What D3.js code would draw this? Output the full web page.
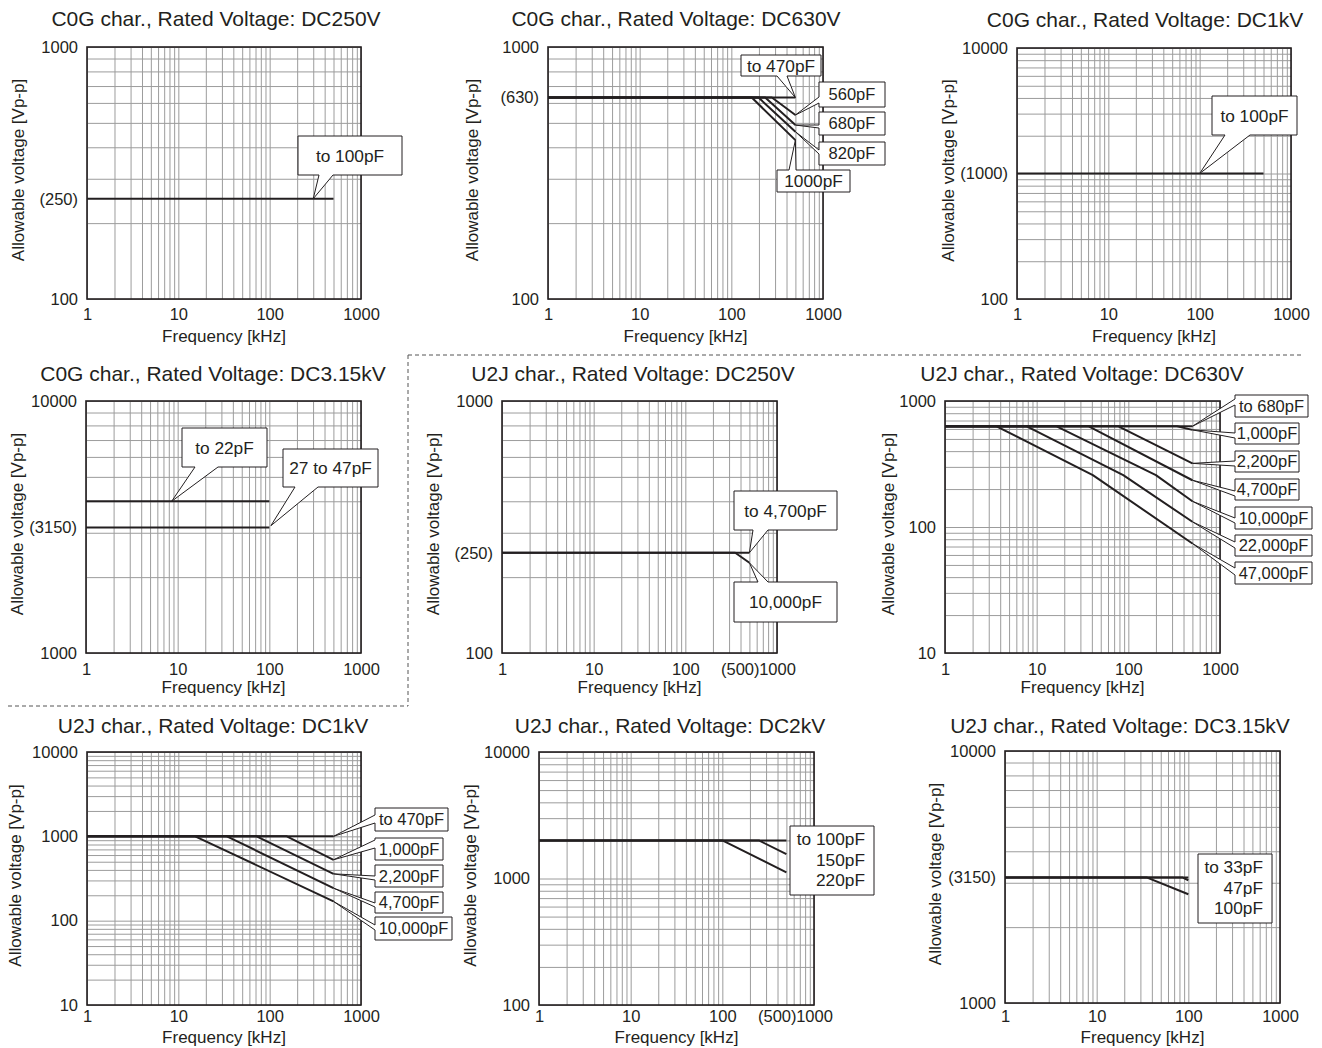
<!DOCTYPE html>
<html>
<head>
<meta charset="utf-8">
<script src="https://d3js.org/d3.v7.min.js"></script>
<style>
  body { margin: 0; background: #fff; }
  svg { display: block; }
  text { font-family: "Liberation Sans", Arial, Helvetica, sans-serif; fill: #231f20; }
</style>
</head>
<body>
<div id="chart"></div>
<script>
// ---- data (frequency kHz, allowable voltage Vp-p) ----
// C0G DC250V
var c0g250_100pF = [[1, 250], [500, 250]];
// C0G DC630V
var c0g630_470pF = [[1, 630], [500, 630]];
var c0g630_560pF = [[1, 630], [277, 630], [500, 537]];
var c0g630_680pF = [[1, 630], [234, 630], [500, 490]];
var c0g630_820pF = [[1, 630], [198, 630], [500, 461]];
var c0g630_1000pF = [[1, 630], [167, 630], [500, 427]];
// C0G DC1kV
var c0g1k_100pF = [[1, 1000], [500, 1000]];
// C0G DC3.15kV
var c0g315_22pF = [[1, 4000], [100, 4000]];
var c0g315_47pF = [[1, 3150], [100, 3150]];
// U2J DC250V
var u2j250_4700pF = [[1, 250], [500, 250]];
var u2j250_10000pF = [[1, 250], [350, 250], [500, 228]];
// U2J DC630V
var u2j630_680pF = [[1, 630], [500, 630]];
var u2j630_1000pF = [[1, 630], [340, 630], [500, 590]];
var u2j630_2200pF = [[1, 630], [78, 630], [500, 320]];
var u2j630_4700pF = [[1, 630], [37, 630], [500, 235]];
var u2j630_10000pF = [[1, 630], [16.5, 630], [200, 258], [500, 160]];
var u2j630_22000pF = [[1, 630], [7.8, 630], [88, 258], [500, 110]];
var u2j630_47000pF = [[1, 630], [3.65, 630], [41, 258], [500, 74]];
// U2J DC1kV
var u2j1k_470pF = [[1, 1000], [500, 1000]];
var u2j1k_1000pF = [[1, 1000], [154, 1000], [500, 527]];
var u2j1k_2200pF = [[1, 1000], [72, 1000], [500, 359]];
var u2j1k_4700pF = [[1, 1000], [34, 1000], [500, 243]];
var u2j1k_10000pF = [[1, 1000], [15.3, 1000], [500, 169]];
// U2J DC2kV
var u2j2k_100pF = [[1, 2000], [500, 2000]];
var u2j2k_150pF = [[1, 2000], [250, 2000], [500, 1560]];
var u2j2k_220pF = [[1, 2000], [100, 2000], [500, 1120]];
// U2J DC3.15kV
var u2j315_33pF = [[1, 3150], [100, 3150]];
var u2j315_47pF = [[1, 3150], [86, 3150], [100, 3070]];
var u2j315_100pF = [[1, 3150], [35, 3150], [100, 2700]];

// tick values / labels
var xTicksStd = [1, 10, 100, 1000];
var xLabelsStd = ["1", "10", "100", "1000"];
var xTicks500 = [1, 10, 100, 500, 1000];
var xLabels500 = ["1", "10", "100", "(500)", "1000"];

var yTicks250 = [100, 250, 1000], yLabels250 = ["100", "(250)", "1000"];
var yTicks630 = [100, 630, 1000], yLabels630 = ["100", "(630)", "1000"];
var yTicks1k = [100, 1000, 10000], yLabels1k = ["100", "(1000)", "10000"];
var yTicks3150 = [1000, 3150, 10000], yLabels3150 = ["1000", "(3150)", "10000"];
var yTicksDec2 = [10, 100, 1000], yLabelsDec2 = ["10", "100", "1000"];
var yTicksDec3 = [10, 100, 1000, 10000], yLabelsDec3 = ["10", "100", "1000", "10000"];
var yTicksHi = [100, 1000, 10000], yLabelsHi = ["100", "1000", "10000"];

var INK = "#231f20";
var GRID = "#9c9c9c";

// layout: box = plot area [x, y, w, h]; xpad / xlab = offsets of tick labels and axis title below the plot
var panels = [
  { title: "C0G char., Rated Voltage: DC250V", tx: 216, ty: 26, box: [87, 47, 274, 252], xpad: 9.3, xlab: 43,
    yDomain: [100, 1000], yTicks: yTicks250, yLabels: yLabels250, xTicks: xTicksStd, xLabels: xLabelsStd, ylab: -69,
    series: [c0g250_100pF],
    callouts: [
      { text: ["to 100pF"], box: [298, 136, 104, 39], tail: { side: "bottom", a: 319, c: 333, tip: [300, 250] } }
    ] },
  { title: "C0G char., Rated Voltage: DC630V", tx: 676, ty: 26, box: [548, 47, 275, 252], xpad: 9.3, xlab: 43,
    yDomain: [100, 1000], yTicks: yTicks630, yLabels: yLabels630, xTicks: xTicksStd, xLabels: xLabelsStd, ylab: -76,
    series: [c0g630_470pF, c0g630_560pF, c0g630_680pF, c0g630_820pF, c0g630_1000pF],
    callouts: [
      { text: ["to 470pF"], box: [741, 55, 80, 21], tail: { side: "bottom", a: 777, c: 787, tip: [500, 630] } },
      { text: ["560pF"], box: [819, 82, 66, 25], tail: { side: "left", a: 97, c: 103, tip: [500, 537] } },
      { text: ["680pF"], box: [819, 112, 66, 23], tail: { side: "left", a: 125, c: 128, tip: [500, 490] } },
      { text: ["820pF"], box: [819, 142, 66, 23], tail: { side: "left", a: 150, c: 154, tip: [500, 461] } },
      { text: ["1000pF"], box: [777, 170, 73, 22], tail: { side: "top", a: 789, c: 796, tip: [500, 427] } }
    ] },
  { title: "C0G char., Rated Voltage: DC1kV", tx: 1145, ty: 27, box: [1017, 48, 274, 251], xpad: 9.3, xlab: 43,
    yDomain: [100, 10000], yTicks: yTicks1k, yLabels: yLabels1k, xTicks: xTicksStd, xLabels: xLabelsStd, ylab: -69,
    series: [c0g1k_100pF],
    callouts: [
      { text: ["to 100pF"], box: [1212, 96, 85, 39], tail: { side: "bottom", a: 1225, c: 1250, tip: [100, 1000] } }
    ] },
  { title: "C0G char., Rated Voltage: DC3.15kV", tx: 213, ty: 381, box: [86, 401, 275, 252], xpad: 10, xlab: 40,
    yDomain: [1000, 10000], yTicks: yTicks3150, yLabels: yLabels3150, xTicks: xTicksStd, xLabels: xLabelsStd, ylab: -69,
    series: [c0g315_22pF, c0g315_47pF],
    callouts: [
      { text: ["to 22pF"], box: [182, 428, 85, 39], tail: { side: "bottom", a: 195, c: 218, tip: [8.6, 4000] } },
      { text: ["27 to 47pF"], box: [283, 449, 95, 38], tail: { side: "bottom", a: 295, c: 318, tip: [104, 3200] } }
    ] },
  { title: "U2J char., Rated Voltage: DC250V", tx: 633, ty: 381, box: [502, 401, 275, 252], xpad: 10, xlab: 40,
    yDomain: [100, 1000], yTicks: yTicks250, yLabels: yLabels250, xTicks: xTicks500, xLabels: xLabels500, ylab: -69,
    series: [u2j250_4700pF, u2j250_10000pF],
    callouts: [
      { text: ["to 4,700pF"], box: [734, 491, 103, 39], tail: { side: "bottom", a: 753, c: 768, tip: [500, 250] } },
      { text: ["10,000pF"], box: [734, 582, 103, 40], tail: { side: "top", a: 758, c: 768, tip: [500, 228] } }
    ] },
  { title: "U2J char., Rated Voltage: DC630V", tx: 1082, ty: 381, box: [945, 401, 275, 252], xpad: 10, xlab: 40,
    yDomain: [10, 1000], yTicks: yTicksDec2, yLabels: yLabelsDec2, xTicks: xTicksStd, xLabels: xLabelsStd, ylab: -57,
    series: [u2j630_680pF, u2j630_1000pF, u2j630_2200pF, u2j630_4700pF, u2j630_10000pF, u2j630_22000pF, u2j630_47000pF],
    callouts: [
      { text: ["to 680pF"], box: [1235, 395, 73, 22], tail: { side: "left", a: 399, c: 405, tip: [500, 630] } },
      { text: ["1,000pF"], box: [1235, 423, 64, 21], tail: { side: "left", a: 433, c: 438, tip: [500, 590] } },
      { text: ["2,200pF"], box: [1235, 451, 64, 21], tail: { side: "left", a: 461, c: 466, tip: [500, 320] } },
      { text: ["4,700pF"], box: [1235, 479, 64, 21], tail: { side: "left", a: 491, c: 496, tip: [500, 235] } },
      { text: ["10,000pF"], box: [1235, 507, 77, 22], tail: { side: "left", a: 518, c: 523, tip: [500, 160] } },
      { text: ["22,000pF"], box: [1235, 535, 77, 21], tail: { side: "left", a: 542, c: 548, tip: [500, 110] } },
      { text: ["47,000pF"], box: [1235, 562, 77, 22], tail: { side: "left", a: 568, c: 575, tip: [500, 74] } }
    ] },
  { title: "U2J char., Rated Voltage: DC1kV", tx: 213, ty: 733, box: [87, 752, 274, 253], xpad: 5.3, xlab: 38,
    yDomain: [10, 10000], yTicks: yTicksDec3, yLabels: yLabelsDec3, xTicks: xTicksStd, xLabels: xLabelsStd, ylab: -72,
    series: [u2j1k_470pF, u2j1k_1000pF, u2j1k_2200pF, u2j1k_4700pF, u2j1k_10000pF],
    callouts: [
      { text: ["to 470pF"], box: [375, 808, 73, 23], tail: { side: "left", a: 815, c: 823, tip: [500, 1000] } },
      { text: ["1,000pF"], box: [375, 838, 68, 22], tail: { side: "left", a: 840, c: 848, tip: [500, 527] } },
      { text: ["2,200pF"], box: [375, 865, 68, 22], tail: { side: "left", a: 876, c: 880, tip: [500, 359] } },
      { text: ["4,700pF"], box: [375, 892, 68, 21], tail: { side: "left", a: 903, c: 907, tip: [500, 243] } },
      { text: ["10,000pF"], box: [375, 917, 77, 23], tail: { side: "left", a: 925, c: 930, tip: [500, 169] } }
    ] },
  { title: "U2J char., Rated Voltage: DC2kV", tx: 670, ty: 733, box: [539, 752, 275, 253], xpad: 5.3, xlab: 38,
    yDomain: [100, 10000], yTicks: yTicksHi, yLabels: yLabelsHi, xTicks: xTicks500, xLabels: xLabels500, ylab: -69,
    series: [u2j2k_100pF, u2j2k_150pF, u2j2k_220pF],
    callouts: [
      { text: ["to 100pF", "150pF", "220pF"], box: [790, 826, 84, 69] }
    ] },
  { title: "U2J char., Rated Voltage: DC3.15kV", tx: 1120, ty: 733, box: [1005, 751, 275, 252], xpad: 7.3, xlab: 40,
    yDomain: [1000, 10000], yTicks: yTicks3150, yLabels: yLabels3150, xTicks: xTicksStd, xLabels: xLabelsStd, ylab: -70,
    series: [u2j315_33pF, u2j315_47pF, u2j315_100pF],
    callouts: [
      { text: ["to 33pF", "47pF", "100pF"], box: [1198, 854, 74, 69] }
    ] }
];

var svg = d3.select("#chart").append("svg")
  .attr("width", 1322)
  .attr("height", 1048);

// dashed separators between the C0G and U2J groups
svg.append("path")
  .attr("d", "M408,355H1302M408,355V706M8,706H408")
  .attr("fill", "none")
  .attr("stroke", "#555")
  .attr("stroke-width", 1)
  .attr("stroke-dasharray", "4,3");

function bubblePath(b, t, tip) {
  var x = b[0], y = b[1], r = b[0] + b[2], bt = b[1] + b[3];
  if (!t) return "M" + x + "," + y + "H" + r + "V" + bt + "H" + x + "Z";
  if (t.side == "bottom")
    return "M" + x + "," + y + "H" + r + "V" + bt + "H" + t.c + "L" + tip[0] + "," + tip[1] + "L" + t.a + "," + bt + "H" + x + "Z";
  if (t.side == "top")
    return "M" + x + "," + y + "H" + t.a + "L" + tip[0] + "," + tip[1] + "L" + t.c + "," + y + "H" + r + "V" + bt + "H" + x + "Z";
  // left side
  return "M" + x + "," + y + "H" + r + "V" + bt + "H" + x + "V" + t.c + "L" + tip[0] + "," + tip[1] + "L" + x + "," + t.a + "Z";
}

panels.forEach(function (p) {
  var px = p.box[0], py = p.box[1], pw = p.box[2], ph = p.box[3];
  var x = d3.scaleLog().domain([1, 1000]).range([px, px + pw]);
  var y = d3.scaleLog().domain(p.yDomain).range([py + ph, py]);
  var g = svg.append("g");

  // grid
  var gx = g.append("g")
    .attr("transform", "translate(0," + (py + ph) + ")")
    .call(d3.axisBottom(x).tickValues(x.ticks()).tickSize(-ph).tickFormat(""));
  var gy = g.append("g")
    .attr("transform", "translate(" + px + ",0)")
    .call(d3.axisLeft(y).tickValues(y.ticks()).tickSize(-pw).tickFormat(""));
  [gx, gy].forEach(function (a) {
    a.select(".domain").remove();
    a.selectAll("line").attr("stroke", GRID).attr("stroke-width", 1);
  });

  // frame
  g.append("rect")
    .attr("x", px).attr("y", py).attr("width", pw).attr("height", ph)
    .attr("fill", "none").attr("stroke", INK).attr("stroke-width", 1.6);

  // tick labels
  var ax = g.append("g")
    .attr("transform", "translate(0," + (py + ph) + ")")
    .call(d3.axisBottom(x).tickValues(p.xTicks).tickSize(0).tickPadding(p.xpad)
      .tickFormat(function (d, i) { return p.xLabels[i]; }));
  var ay = g.append("g")
    .attr("transform", "translate(" + px + ",0)")
    .call(d3.axisLeft(y).tickValues(p.yTicks).tickSize(0).tickPadding(9)
      .tickFormat(function (d, i) { return p.yLabels[i]; }));
  [ax, ay].forEach(function (a) {
    a.attr("font-family", null).attr("font-size", null);
    a.select(".domain").remove();
    a.selectAll("text").style("font-size", "16.5px").attr("fill", INK);
  });
  // "(500)" sits tight against "1000"
  ax.selectAll("text").filter(function (d) { return d == 500; })
    .attr("text-anchor", "end")
    .attr("x", x(1000) - x(500) - 18);

  // axis titles
  g.append("text")
    .attr("x", px + pw / 2).attr("y", py + ph + p.xlab)
    .attr("text-anchor", "middle")
    .style("font-size", "17px")
    .text("Frequency [kHz]");
  g.append("text")
    .attr("transform", "translate(" + (px + p.ylab) + "," + (py + ph / 2 - 3) + ") rotate(-90)")
    .attr("text-anchor", "middle")
    .attr("dy", "0.35em")
    .style("font-size", "17px")
    .text("Allowable voltage [Vp-p]");

  // panel title
  g.append("text")
    .attr("x", p.tx).attr("y", p.ty)
    .attr("text-anchor", "middle")
    .style("font-size", "21px")
    .text(p.title);

  // curves
  var line = d3.line()
    .x(function (d) { return x(d[0]); })
    .y(function (d) { return y(d[1]); });
  g.selectAll("path.curve")
    .data(p.series)
    .enter()
    .append("path")
    .attr("class", "curve")
    .attr("d", line)
    .attr("fill", "none")
    .attr("stroke", INK)
    .attr("stroke-width", 2)
    .attr("stroke-linejoin", "round");

  // callouts
  p.callouts.forEach(function (c) {
    var cg = g.append("g");
    var shape = cg.append("path");
    var b = c.box;
    // the small side tags use a slightly smaller face so the text clears the frame
    var fs = (c.tail && c.tail.side == "left") ? "16.5px" : "17.3px";
    if (c.text.length == 1) {
      cg.append("text")
        .attr("x", b[0] + b[2] / 2)
        .attr("y", b[1] + b[3] / 2)
        .attr("dy", "0.36em")
        .attr("text-anchor", "middle")
        .style("font-size", fs)
        .text(c.text[0]);
    } else {
      c.text.forEach(function (s, i) {
        cg.append("text")
          .attr("x", b[0] + b[2] - 9)
          .attr("y", b[1] + 19 + i * 20.5)
          .attr("text-anchor", "end")
          .style("font-size", fs)
          .text(s);
      });
    }
    var tip = c.tail ? [x(c.tail.tip[0]), y(c.tail.tip[1])] : null;
    shape.attr("d", bubblePath(b, c.tail, tip))
      .attr("fill", "#fff")
      .attr("stroke", INK)
      .attr("stroke-width", 1)
      .attr("stroke-linejoin", "miter");
  });
});
</script>
</body>
</html>
